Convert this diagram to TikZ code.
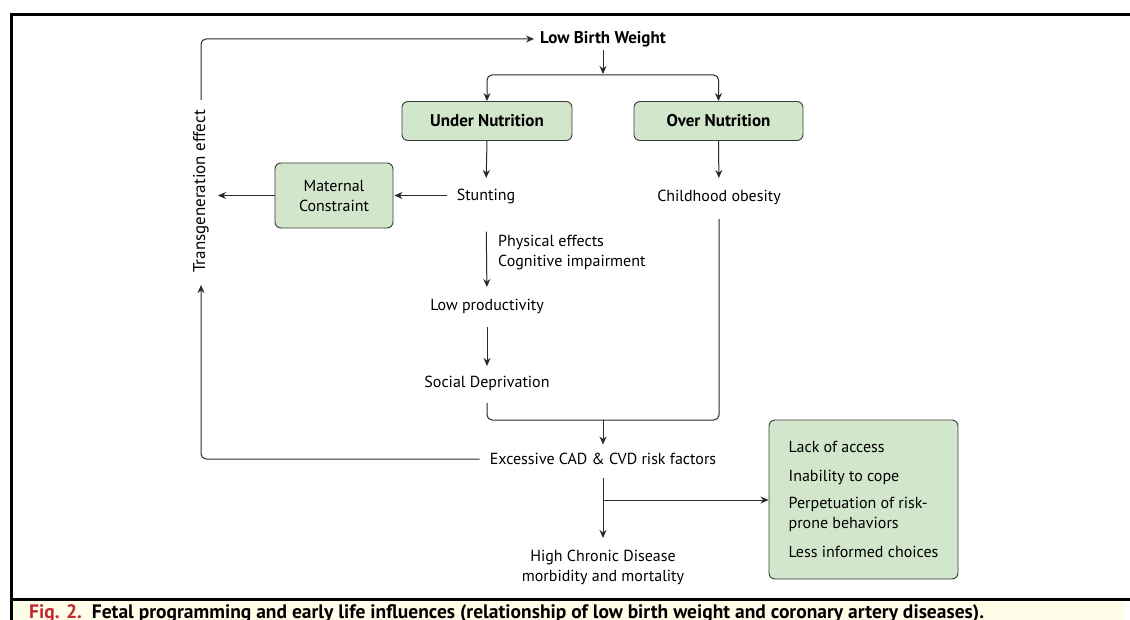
\documentclass[tikz,border=0pt]{standalone}
\usepackage{fontspec}
\setmainfont{PT Sans}
\usetikzlibrary{arrows.meta}
\definecolor{boxgreen}{HTML}{D1E6CB}
\definecolor{boxedge}{HTML}{3A3A3A}
\definecolor{capbg}{HTML}{FFFCE8}
\definecolor{figred}{HTML}{C0282D}
\definecolor{linegray}{HTML}{2A2A2A}
\begin{document}
\begin{tikzpicture}[x=1pt,y=-1pt,
  txt/.style={font=\fontsize{16}{20}\selectfont, inner sep=1pt, align=center},
  btxt/.style={font=\fontsize{17}{20}\selectfont\bfseries, inner sep=1pt, align=center},
  gbox/.style={draw=boxedge, fill=boxgreen, rounded corners=6pt, line width=0.9pt},
  arr/.style={-{Stealth[length=8pt,width=7pt]}, line width=1pt, draw=linegray},
  ln/.style={line width=1pt, draw=linegray, rounded corners=5pt}
]
\useasboundingbox (0,0) rectangle (1130,620);
% frame and caption band
\fill[capbg] (12,601) rectangle (1125,620);
\draw[line width=3pt] (10,15) -- (1130,15);
\draw[line width=3pt] (11,15) -- (11,620);
\draw[line width=3pt] (11,599) -- (1130,599);
\node[anchor=base west, inner sep=0pt, font=\fontsize{19.5}{22}\selectfont\bfseries] (cap) at (29,618)
  {\textcolor{figred}{Fig. 2.}\ \ Fetal programming and early life influences (relationship of low birth weight and coronary artery diseases).};

% nodes
\node[btxt] (lbw) at (603,39) {Low Birth Weight};
\node[btxt, gbox, minimum width=170pt, minimum height=39pt] (un) at (487,121) {Under Nutrition};
\node[btxt, gbox, minimum width=169pt, minimum height=39pt] (on) at (718.5,121) {Over Nutrition};
\node[txt] (stunt) at (486,197) {Stunting};
\node[txt, gbox, minimum width=118pt, minimum height=65pt] (mc) at (334,195.5) {Maternal\\Constraint};
\node[txt, font=\fontsize{17}{20}\selectfont, rotate=90] (tge) at (201,191.5) {Transgeneration effect};
\node[txt, align=left, anchor=west] (phys) at (497,252.5) {Physical effects\\Cognitive impairment};
\node[txt] (lowp) at (487,306) {Low productivity};
\node[txt] (soc) at (487,383) {Social Deprivation};
\node[txt] (child) at (719,197) {Childhood obesity};
\node[txt] (cad) at (603,459) {Excessive CAD \& CVD risk factors};
\node[txt] (hcd) at (603,567) {High Chronic Disease\\morbidity and mortality};
\node[txt, gbox, align=left, inner sep=0pt, minimum width=189pt, minimum height=159pt] (rb) at (863.5,499.5)
  {Lack of access\\[9pt]Inability to cope\\[7pt]Perpetuation of risk-\\prone behaviors\\[9pt]Less informed choices};

\coordinate (split) at (603,75);
\coordinate (bm) at (603,420);
\coordinate (br2) at (603,500);

% connectors
\draw[arr, shorten <=2pt, shorten >=1pt] (lbw.south) -- (split);
\draw[ln, arr] (split) -| (un.north);
\draw[ln, arr] (split) -| (on.north);
\draw[arr, shorten >=10.5pt] (un.south) -- (stunt.north);
\draw[arr, shorten >=10.5pt] (on.south) -- (child.north);
\draw[arr, shorten <=9pt, shorten >=1pt] (stunt.west |- mc.east) -- (mc.east);
\draw[arr, shorten >=8pt] (mc.west) -- (mc.west -| tge.south);
\draw[ln, arr, shorten <=9pt, shorten >=5pt] (tge.east) |- (lbw.west);
\draw[ln, arr, shorten <=9pt, shorten >=11pt] (cad.west) -| (tge.west);
\draw[arr, shorten <=26pt, shorten >=10.5pt] (stunt.south) -- (lowp.north);
\draw[arr, shorten <=12.5pt, shorten >=8.5pt] (lowp.south) -- (soc.north);
\draw[ln, shorten <=11.5pt, shorten >=13.5pt] (soc.south) |- (bm) -| (child.south);
\draw[arr, shorten >=7.5pt] (bm) -- (cad.north);
\draw[arr, shorten <=12.5pt, shorten >=10.5pt] (cad.south) -- (hcd.north);
\draw[arr] (br2) -- (br2 -| rb.west);
\end{tikzpicture}
\end{document}
